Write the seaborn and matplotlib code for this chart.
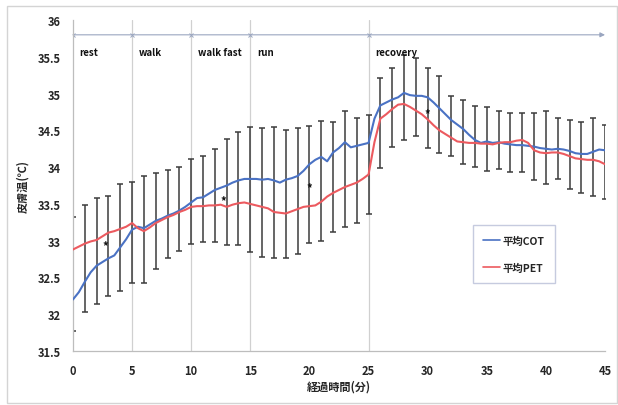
import numpy as np
import pandas as pd
import matplotlib
matplotlib.use("Agg")
import matplotlib.pyplot as plt
import seaborn as sns
from matplotlib.patches import Rectangle
from matplotlib.lines import Line2D

# ---------------- data ----------------
time_min = [i * 0.5 for i in range(91)]  # 0 .. 45 min

cot_mean = [32.20, 32.30, 32.44, 32.57, 32.66, 32.71, 32.76, 32.80, 32.91, 33.02,
            33.15, 33.19, 33.17, 33.22, 33.27, 33.30, 33.34, 33.37, 33.41, 33.46,
            33.52, 33.58, 33.59, 33.64, 33.69, 33.72, 33.75, 33.79, 33.82, 33.84,
            33.84, 33.84, 33.83, 33.84, 33.82, 33.79, 33.83, 33.85, 33.88, 33.95,
            34.04, 34.10, 34.14, 34.08, 34.20, 34.26, 34.34, 34.27, 34.29, 34.31,
            34.33, 34.66, 34.84, 34.88, 34.92, 34.95, 35.01, 34.98, 34.97, 34.97,
            34.95, 34.88, 34.80, 34.72, 34.64, 34.58, 34.52, 34.44, 34.37, 34.33,
            34.35, 34.33, 34.34, 34.32, 34.31, 34.30, 34.30, 34.29, 34.28, 34.26,
            34.25, 34.24, 34.25, 34.24, 34.22, 34.19, 34.18, 34.18, 34.21, 34.24,
            34.23]

pet_mean = [32.88, 32.92, 32.96, 32.99, 33.01, 33.06, 33.11, 33.13, 33.16, 33.19,
            33.24, 33.17, 33.13, 33.18, 33.24, 33.28, 33.32, 33.35, 33.39, 33.42,
            33.46, 33.47, 33.47, 33.48, 33.48, 33.49, 33.46, 33.49, 33.51, 33.52,
            33.50, 33.48, 33.46, 33.44, 33.39, 33.38, 33.37, 33.40, 33.43, 33.46,
            33.47, 33.48, 33.53, 33.60, 33.65, 33.69, 33.73, 33.76, 33.79, 33.84,
            33.90, 34.34, 34.66, 34.72, 34.79, 34.85, 34.86, 34.82, 34.77, 34.72,
            34.65, 34.57, 34.50, 34.45, 34.40, 34.35, 34.34, 34.33, 34.33, 34.32,
            34.32, 34.31, 34.33, 34.34, 34.34, 34.36, 34.37, 34.33, 34.23, 34.20,
            34.19, 34.20, 34.20, 34.18, 34.15, 34.12, 34.11, 34.10, 34.10, 34.08,
            34.04]

bar_minutes = list(range(46))
bar_top = [33.32, 33.48, 33.58, 33.61, 33.77, 33.80, 33.88, 33.92, 33.96, 34.00,
           34.11, 34.15, 34.25, 34.38, 34.48, 34.55, 34.53, 34.55, 34.51, 34.53,
           34.56, 34.63, 34.62, 34.77, 34.67, 34.71, 35.21, 35.35, 35.53, 35.49,
           35.35, 35.24, 34.97, 34.91, 34.83, 34.82, 34.77, 34.74, 34.74, 34.74,
           34.77, 34.67, 34.64, 34.62, 34.67, 34.57]
bar_bottom = [31.77, 32.03, 32.14, 32.25, 32.31, 32.43, 32.43, 32.62, 32.77, 32.86,
              32.96, 32.98, 32.98, 32.94, 32.94, 32.85, 32.78, 32.76, 32.76, 32.82,
              32.97, 32.99, 33.12, 33.19, 33.24, 33.36, 33.99, 34.27, 34.37, 34.43,
              34.26, 34.19, 34.15, 34.04, 34.00, 33.95, 33.98, 33.94, 33.94, 33.82,
              33.77, 33.84, 33.70, 33.65, 33.61, 33.57]

phase_names = ["rest", "walk", "walk fast", "run", "recovery"]
phase_starts = [0, 5, 10, 15, 25]
phase_end = 45

star_x = [2.75, 12.7, 19.95, 30.0]
star_y = [32.93, 33.55, 33.72, 34.73]

series_names = ["平均COT", "平均PET"]
series_colors = ["#4a72c4", "#ec5a5f"]

x_label = "経過時間(分)"
y_label = "皮膚温(℃)"
y_ticks = [31.5, 32, 32.5, 33, 33.5, 34, 34.5, 35, 35.5, 36]
y_tick_labels = ["31.5", "32", "32.5", "33", "33.5", "34", "34.5", "35", "35.5", "36"]
x_ticks = [0, 5, 10, 15, 20, 25, 30, 35, 40, 45]

# ---------------- plot ----------------
sns.set_theme(style="white")
plt.rcParams["font.family"] = ["Noto Sans CJK JP", "DejaVu Sans"]

df = pd.DataFrame({
    "time": time_min * 2,
    "temp": cot_mean + pet_mean,
    "series": [series_names[0]] * len(time_min) + [series_names[1]] * len(time_min),
})

fig = plt.figure(figsize=(6.18, 4.06), dpi=100)
ax = fig.add_axes([0.118, 0.133, 0.861, 0.815])

# phase boundary lines
for s in phase_starts[1:]:
    ax.axvline(s, color="#d0d0d0", lw=0.9, zorder=0)

# error bars
err_col = "#3c3c3c"
ax.vlines(bar_minutes, bar_bottom, bar_top, color=err_col, lw=1.1, zorder=1)
ax.plot(bar_minutes, bar_top, ls="none", marker="_", ms=5, mew=1.1, color=err_col, zorder=1)
ax.plot(bar_minutes, bar_bottom, ls="none", marker="_", ms=5, mew=1.1, color=err_col, zorder=1)

sns.lineplot(data=df, x="time", y="temp", hue="series", palette=series_colors,
             lw=1.5, ax=ax, legend=False, zorder=3)

# phase arrow
arrow_y = 35.8
ax.annotate("", xy=(phase_end, arrow_y), xytext=(0, arrow_y),
            arrowprops=dict(arrowstyle="-|>", color="#9aa6c0", lw=0.8,
                            mutation_scale=7, shrinkA=0, shrinkB=0), zorder=2)
for s in phase_starts:
    ax.plot([s], [arrow_y], marker="x", ms=3, mew=0.7, color="#9aa6c0", zorder=2)
for name, s in zip(phase_names, phase_starts):
    ax.text(s + 0.55, 35.57, name, fontsize=7, fontweight="bold",
            ha="left", va="center", color="#111111")

# significance marks
for sx, sy in zip(star_x, star_y):
    ax.text(sx, sy, "*", fontsize=8, fontweight="bold", ha="center", va="center",
            color="#111111", zorder=4)

ax.set_xlim(0, 45)
ax.set_ylim(31.5, 36)
ax.set_xticks(x_ticks)
ax.set_xticklabels([str(t) for t in x_ticks], fontsize=8, fontweight="bold")
ax.set_yticks(y_ticks)
ax.set_yticklabels(y_tick_labels, fontsize=8, fontweight="bold")
ax.tick_params(axis="both", length=0)
ax.tick_params(axis="x", pad=9)
ax.tick_params(axis="y", pad=9)
ax.set_xlabel(x_label, fontsize=8, fontweight="bold", labelpad=2)
ax.set_ylabel(y_label, fontsize=8, fontweight="bold", labelpad=6)

for side in ["top", "right"]:
    ax.spines[side].set_visible(False)
for side in ["left", "bottom"]:
    ax.spines[side].set_color("#bdbdbd")
    ax.spines[side].set_linewidth(0.9)

handles = [Line2D([0], [0], color=c, lw=1.2) for c in series_colors]
leg = ax.legend(handles, series_names, loc="upper left", bbox_to_anchor=(0.752, 0.38),
                fontsize=7.5, frameon=True, fancybox=False, edgecolor="#b8bed8",
                handlelength=1.6, handletextpad=0.2, labelspacing=1.6,
                borderpad=1.0, borderaxespad=0)
for t in leg.get_texts():
    t.set_fontweight("bold")
leg.get_frame().set_linewidth(1.0)
leg.set_zorder(5)

# figure border
fig.patches.append(Rectangle((0.011, 0.005), 0.987, 0.978, transform=fig.transFigure,
                             fill=False, edgecolor="#d4d4d4", lw=1.0))

fig.savefig("out.png", dpi=100)
